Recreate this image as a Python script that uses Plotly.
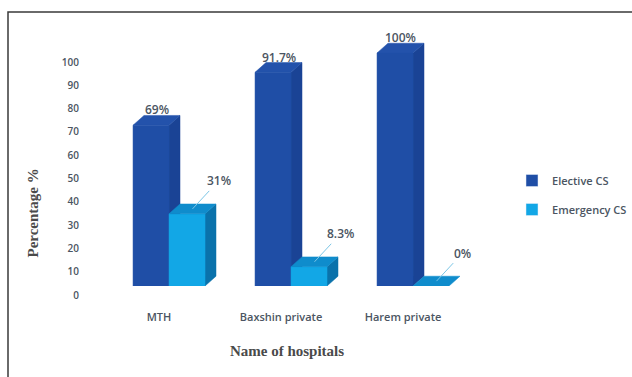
import plotly.graph_objects as go

# ---------------- data ----------------
hospitals = ["MTH", "Baxshin private", "Harem private"]
elective = [69, 91.7, 100]
emergency = [31, 8.3, 0]
elective_labels = ["69%", "91.7%", "100%"]
emergency_labels = ["31%", "8.3%", "0%"]
y_ticks = [0, 10, 20, 30, 40, 50, 60, 70, 80, 90, 100]
series_names = ["Elective CS", "Emergency CS"]

# ---------------- style ----------------
W = 0.295   # bar front width (x units)
DX = 0.09   # 3D depth offset in x units
DY = 4.2    # 3D depth offset in y units

EL_FRONT, EL_SIDE, EL_TOP = "#1f4ea6", "#1a4395", "#2352ab"
EM_FRONT, EM_SIDE, EM_TOP = "#12a7e6", "#0a72ab", "#0f8ccc"
TXT = "#4b5562"
FONT = dict(family="Open Sans", color=TXT, weight=600)

W_PX, H_PX = 632, 377
ML, MR, MT, MB = 84, 142, 25, 91
PW = W_PX - ML - MR
PH = H_PX - MT - MB


def px_x(p):
    return (p - ML) / PW


def px_y(p):
    return (H_PX - MB - p) / PH


fig = go.Figure()


def poly(xs, ys, color):
    fig.add_trace(go.Scatter(
        x=xs + [xs[0]], y=ys + [ys[0]], mode="lines", fill="toself",
        fillcolor=color, line=dict(width=0.5, color=color),
        showlegend=False, hoverinfo="skip"))


def box(x0, x1, v, front, side, top):
    if v > 0:
        poly([x1, x1 + DX, x1 + DX, x1], [0, DY, v + DY, v], side)
        poly([x0, x1, x1, x0], [0, 0, v, v], front)
    poly([x0, x0 + DX, x1 + DX, x1], [v, v + DY, v + DY, v], top)


for i, name in enumerate(hospitals):
    box(i - W, i, elective[i], EL_FRONT, EL_SIDE, EL_TOP)
    box(i, i + W, emergency[i], EM_FRONT, EM_SIDE, EM_TOP)

# legend entries
for nm, col in zip(series_names, [EL_FRONT, EM_FRONT]):
    fig.add_trace(go.Bar(x=[None], y=[None], name=nm, marker_color=col,
                         legendgroup=nm, showlegend=True))

annotations = []
for i in range(len(hospitals)):
    annotations.append(dict(
        x=i - W / 2 + DX / 2, y=elective[i] + DY, text=elective_labels[i],
        showarrow=False, yanchor="bottom", yshift=-5,
        font=dict(FONT, size=12)))
    annotations.append(dict(
        x=i + W / 2 + DX / 2, y=emergency[i] + DY / 2, text=emergency_labels[i],
        showarrow=True, arrowhead=0, arrowwidth=1, arrowcolor="#7cc6e6",
        ax=26, ay=-28, xanchor="center",
        font=dict(FONT, size=12)))

annotations.append(dict(
    xref="paper", yref="paper", x=px_x(22), y=px_y(260),
    text="<b>Percentage %</b>", textangle=-90, showarrow=False,
    font=dict(family="Liberation Serif", size=15, color="#4a4a4a")))

fig.update_layout(
    width=W_PX, height=H_PX,
    margin=dict(l=ML, r=MR, t=MT, b=MB, autoexpand=False),
    paper_bgcolor="white", plot_bgcolor="white",
    showlegend=True,
    legend=dict(x=px_x(512), y=px_y(166), xanchor="left", yanchor="top",
                traceorder="grouped", tracegroupgap=10,
                font=dict(FONT, size=11),
                bgcolor="rgba(0,0,0,0)"),
    xaxis=dict(range=[-0.697, -0.697 + PW / 122.0],
               tickmode="array", tickvals=list(range(len(hospitals))),
               ticktext=hospitals, showgrid=False, zeroline=False,
               showline=False, ticks="", ticklabelshift=-10,
               ticklabelstandoff=23,
               tickfont=dict(FONT, size=11),
               title=dict(text="<b>Name of hospitals</b>", standoff=22,
                          font=dict(family="Liberation Serif", size=15,
                                    color="#4a4a4a")),
               automargin=False, fixedrange=True),
    yaxis=dict(range=[0, PH / 2.33], tickmode="array", tickvals=y_ticks,
               showgrid=False, zeroline=False, showline=False, ticks="",
               ticklabelshift=9, ticklabelstandoff=4,
               tickfont=dict(FONT, size=10),
               automargin=False, fixedrange=True),
    annotations=annotations,
    shapes=[dict(type="rect", xref="paper", yref="paper",
                 x0=px_x(8), x1=px_x(660), y0=px_y(420), y1=px_y(12),
                 line=dict(color="#3a3a3a", width=1.5), layer="below")],
)

fig.write_html("out.html")
